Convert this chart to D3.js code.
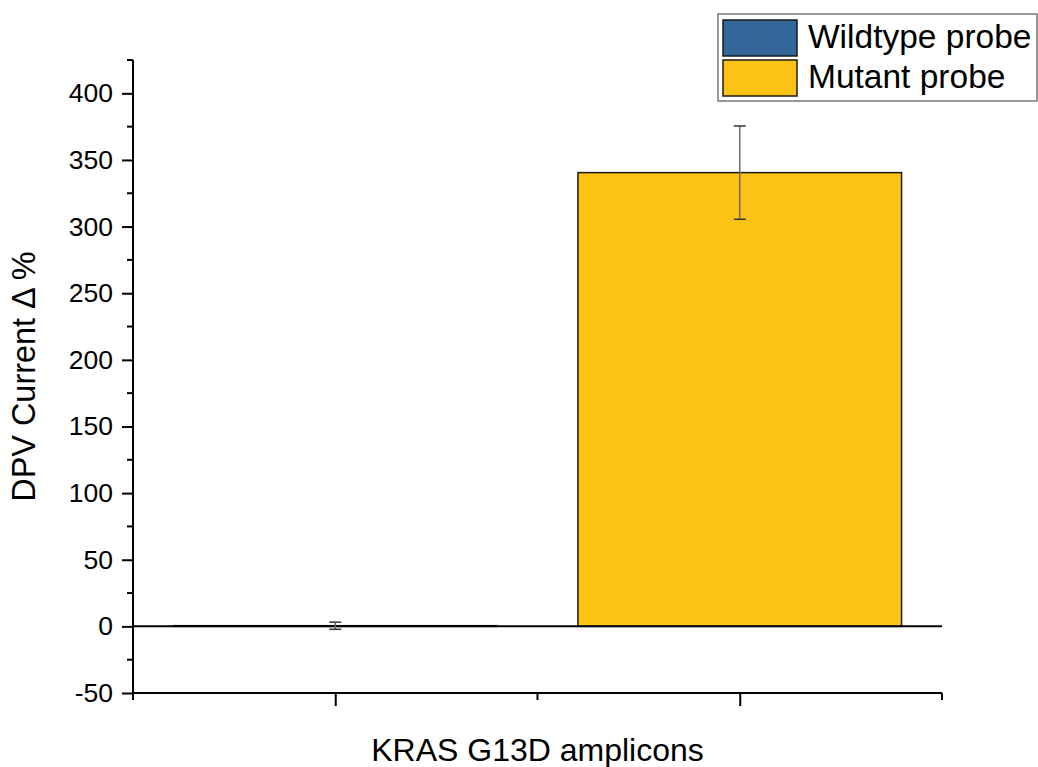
<!DOCTYPE html>
<html><head><meta charset="utf-8">
<script src="https://cdn.jsdelivr.net/npm/d3@7"></script>
<style>body{margin:0;background:#fff}svg{display:block}text{font-family:Arial,"Liberation Sans",sans-serif;fill:#000}</style>
</head><body><svg id="c" width="1038" height="767"></svg>
<script>
const categories = ["Wildtype probe", "Mutant probe"];
const positions = [1, 2];
const values = [0.5, 340.5];
const errors = [2.7, 35];
const colors = ["#336699", "#FDC314"];
const yTicks = [-50, 0, 50, 100, 150, 200, 250, 300, 350, 400];
const yMinor = [-25, 25, 75, 125, 175, 225, 275, 325, 375, 425];
const xMajor = [1, 2];
const xMinor = [0.5, 1.5, 2.5];
const xTitle = "KRAS G13D amplicons";
const yTitle = "DPV Current \u0394 %";

const svg = d3.select("#c");
const x = d3.scaleLinear().domain([0.5, 2.5]).range([133, 942]);
const y = d3.scaleLinear().domain([-50, 425]).range([693, 60]);
const barW = x(1.8) - x(1);

// bars
svg.selectAll("rect.bar").data(values).join("rect")
  .attr("x", (d,i) => x(positions[i]) - barW/2)
  .attr("y", d => y(Math.max(d,0)))
  .attr("width", barW)
  .attr("height", d => Math.abs(y(d) - y(0)))
  .attr("fill", (d,i) => colors[i])
  .attr("stroke", "#1a1a1a").attr("stroke-width", 1.5);

// zero line
svg.append("line").attr("x1", x(0.5)).attr("x2", x(2.5)).attr("y1", y(0)).attr("y2", y(0))
  .attr("stroke", "#000").attr("stroke-width", 2);

// error bars
const eg = svg.selectAll("g.err").data(values).join("g");
eg.append("line").attr("x1", (d,i)=>x(positions[i])).attr("x2",(d,i)=>x(positions[i]))
  .attr("y1",(d,i)=>y(d+errors[i])).attr("y2",(d,i)=>y(d-errors[i]))
  .attr("stroke","#6b6b6b").attr("stroke-width",1.5);
[1,-1].forEach(s=>{
  eg.append("line").attr("x1",(d,i)=>x(positions[i])-6).attr("x2",(d,i)=>x(positions[i])+6)
    .attr("y1",(d,i)=>y(d+s*errors[i])).attr("y2",(d,i)=>y(d+s*errors[i]))
    .attr("stroke","#333").attr("stroke-width",1.5);
});

// y axis
const yAx = d3.axisLeft(y).tickValues(yTicks).tickSize(11).tickPadding(9).tickFormat(d => String(d));
const gy = svg.append("g").attr("transform", `translate(${x(0.5)},0)`).call(yAx);
gy.select(".domain").attr("stroke-width", 2).attr("d", `M0,${y(425)}V${y(-50)}`);
gy.selectAll(".tick line").attr("stroke-width", 2);
gy.selectAll(".tick text").attr("font-size", 26.5);
svg.append("g").selectAll("line").data(yMinor).join("line")
  .attr("x1", x(0.5)-6).attr("x2", x(0.5)).attr("y1", d=>y(d)).attr("y2", d=>y(d))
  .attr("stroke","#000").attr("stroke-width",2);

// x axis
const gx = svg.append("g").attr("transform", `translate(0,${y(-50)})`)
  .call(d3.axisBottom(x).tickValues(xMajor).tickSize(13).tickFormat(""));
gx.select(".domain").attr("stroke-width", 2).attr("d", `M${x(0.5)},0H${x(2.5)}`);
gx.selectAll(".tick line").attr("stroke-width", 2);
svg.append("g").selectAll("line").data(xMinor).join("line")
  .attr("x1", d=>x(d)).attr("x2", d=>x(d)).attr("y1", y(-50)).attr("y2", y(-50)+7)
  .attr("stroke","#000").attr("stroke-width",2);

// titles
svg.append("text").attr("x", (x(0.5)+x(2.5))/2).attr("y", 761).attr("text-anchor","middle")
  .attr("font-size", 32).text(xTitle);
svg.append("text").attr("transform", `translate(35,${(y(-50)+y(425))/2}) rotate(-90)`)
  .attr("text-anchor","middle").attr("font-size", 32.4).text(yTitle);

// legend
const lg = svg.append("g");
lg.append("rect").attr("x",718).attr("y",14).attr("width",319).attr("height",87)
  .attr("fill","#fff").attr("stroke","#777").attr("stroke-width",1.5);
categories.forEach((c,i)=>{
  lg.append("rect").attr("x",723).attr("y",20+i*40).attr("width",74).attr("height",36)
    .attr("fill",colors[i]).attr("stroke","#1a1a1a").attr("stroke-width",1.5);
  lg.append("text").attr("x",808).attr("y",48+i*40).attr("font-size",33.5).text(c);
});
</script></body></html>
